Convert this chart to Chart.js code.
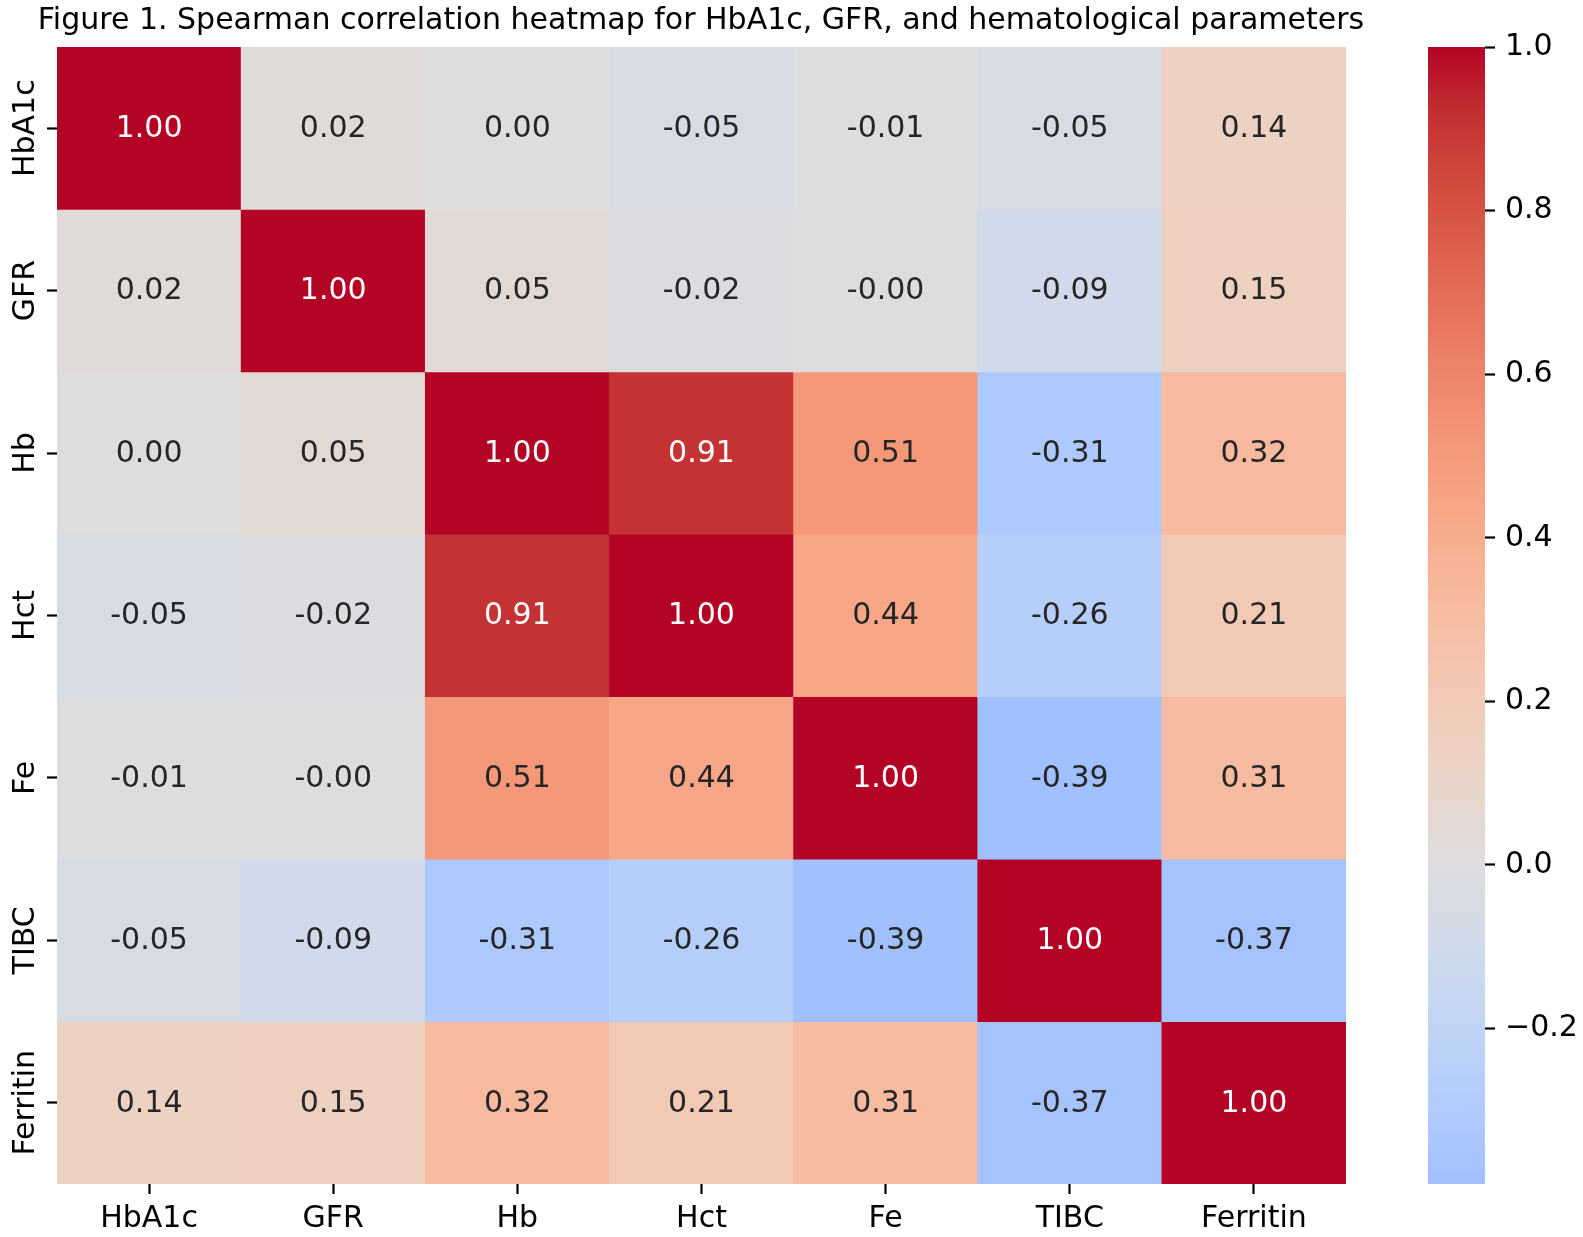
<!DOCTYPE html>
<html>
<head>
<meta charset="utf-8">
<script src="https://cdn.jsdelivr.net/npm/chart.js@4.4.1/dist/chart.umd.min.js"></script>
<style>
  body { margin: 0; background: #fff; }
  #wrap { position: relative; width: 1583px; height: 1237px; }
  #title { position: absolute; left: 0; top: 1px; width: 1402px; text-align: center;
           font: 30px 'DejaVu Sans'; line-height: 36px; color: #000; z-index: 2; white-space: nowrap; }
  #heat { position: absolute; left: 0; top: 0; }
  #cbar { position: absolute; left: 1400px; top: 0; }
</style>
</head>
<body>
<div id="wrap">
  <div id="title">Figure 1. Spearman correlation heatmap for HbA1c, GFR, and hematological parameters</div>
  <canvas id="heat" width="1400" height="1237"></canvas>
  <canvas id="cbar" width="183" height="1237"></canvas>
</div>
<script>
// ---- données ----
const varLabels = ['HbA1c', 'GFR', 'Hb', 'Hct', 'Fe', 'TIBC', 'Ferritin'];

const rowHbA1c    = [1.00, 0.02, 0.00, -0.05, -0.01, -0.05, 0.14];
const rowGFR      = [0.02, 1.00, 0.05, -0.02, -0.001, -0.09, 0.15];
const rowHb       = [0.00, 0.05, 1.00, 0.91, 0.51, -0.31, 0.32];
const rowHct      = [-0.05, -0.02, 0.91, 1.00, 0.44, -0.26, 0.21];
const rowFe       = [-0.01, -0.001, 0.51, 0.44, 1.00, -0.39, 0.31];
const rowTIBC     = [-0.05, -0.09, -0.31, -0.26, -0.39, 1.00, -0.37];
const rowFerritin = [0.14, 0.15, 0.32, 0.21, 0.31, -0.37, 1.00];

const colorbarTicks = [-0.2, 0.0, 0.2, 0.4, 0.6, 0.8, 1.0];

const matrix = [rowHbA1c, rowGFR, rowHb, rowHct, rowFe, rowTIBC, rowFerritin];
const allVals = matrix.flat();
const vmin = Math.min(...allVals);
const vmax = Math.max(...allVals);

// ---- palette coolwarm (table de Moreland) ----
const coolwarm = [
  [59,76,192],[68,90,204],[77,104,215],[87,117,225],[98,130,234],[108,142,241],
  [119,154,247],[130,165,251],[141,176,254],[152,185,255],[163,194,255],[174,201,253],
  [184,208,249],[194,213,244],[204,217,238],[213,219,230],[221,221,221],[229,216,209],
  [236,211,197],[241,204,185],[245,196,173],[247,187,160],[247,177,148],[247,166,135],
  [244,154,123],[241,141,111],[236,127,99],[229,112,88],[222,96,77],[213,80,66],
  [203,62,56],[192,40,47],[180,4,38]
];

function cmap(t) {
  t = Math.max(0, Math.min(1, t));
  const p = t * (coolwarm.length - 1);
  const i = Math.min(Math.floor(p), coolwarm.length - 2);
  const f = p - i;
  return coolwarm[i].map((c, k) => Math.round(c + (coolwarm[i + 1][k] - c) * f));
}

// centre = 0 (comme seaborn)
const vrange = Math.max(vmax, -vmin);
function valueToRgb(v) { return cmap(0.5 + v / (2 * vrange)); }
function rgbStr(c) { return 'rgb(' + c.join(',') + ')'; }

function luminance(c) {
  const lin = c.map(x => { x /= 255; return x <= 0.03928 ? x / 12.92 : Math.pow((x + 0.055) / 1.055, 2.4); });
  return 0.2126 * lin[0] + 0.7152 * lin[1] + 0.0722 * lin[2];
}

Chart.defaults.font.family = "'DejaVu Sans'";
Chart.defaults.font.size = 30;
Chart.defaults.color = '#000';

// ---- annotations dans les cellules + labels Y verticaux ----
const cellText = {
  id: 'cellText',
  afterDatasetsDraw(chart) {
    const ctx = chart.ctx;
    ctx.save();
    ctx.font = "30px 'DejaVu Sans'";
    ctx.textAlign = 'center';
    ctx.textBaseline = 'middle';
    chart.data.datasets.forEach((ds, r) => {
      chart.getDatasetMeta(r).data.forEach((el, c) => {
        const v = matrix[r][c];
        ctx.fillStyle = luminance(valueToRgb(v)) > 0.408 ? '#262626' : '#ffffff';
        ctx.fillText(v.toFixed(2), el.x, (el.y + el.base) / 2 + 1);
      });
    });
    ctx.restore();
  }
};

const yRotLabels = {
  id: 'yRotLabels',
  afterDraw(chart) {
    const ctx = chart.ctx;
    const ys = chart.scales.y;
    ctx.save();
    ctx.font = "30px 'DejaVu Sans'";
    ctx.fillStyle = '#000';
    ctx.textAlign = 'center';
    ctx.textBaseline = 'alphabetic';
    varLabels.forEach((lab, i) => {
      ctx.save();
      ctx.translate(34, ys.getPixelForValue(i + 0.5));
      ctx.rotate(-Math.PI / 2);
      ctx.fillText(lab, 0, 0);
      ctx.restore();
    });
    ctx.restore();
  }
};

// ---- heatmap ----
new Chart(document.getElementById('heat').getContext('2d'), {
  type: 'bar',
  data: {
    labels: varLabels,
    datasets: matrix.map((row, r) => ({
      label: varLabels[r],
      data: row.map(() => [r, r + 1]),
      backgroundColor: row.map(v => rgbStr(valueToRgb(v))),
      borderWidth: 0,
      barPercentage: 1,
      categoryPercentage: 1,
      grouped: false
    }))
  },
  options: {
    responsive: false,
    animation: false,
    layout: { padding: { top: 47, right: 54, left: 0, bottom: 0 } },
    plugins: { legend: { display: false }, tooltip: { enabled: false } },
    scales: {
      x: {
        type: 'category',
        grid: { drawOnChartArea: false, offset: false, tickLength: 10, tickWidth: 2.2, tickColor: '#000' },
        border: { display: false },
        ticks: { padding: 7, maxRotation: 0, minRotation: 0 },
        afterFit(scale) { scale.height = 53; }
      },
      y: {
        type: 'linear',
        min: 0, max: 7,
        reverse: true,
        grid: { drawOnChartArea: false, tickLength: 10, tickWidth: 2.2, tickColor: '#000' },
        border: { display: false },
        ticks: { display: false },
        afterBuildTicks(scale) { scale.ticks = varLabels.map((l, i) => ({ value: i + 0.5 })); },
        afterFit(scale) { scale.width = 57; }
      }
    }
  },
  plugins: [cellText, yRotLabels]
});

// ---- barre de couleur ----
new Chart(document.getElementById('cbar').getContext('2d'), {
  type: 'bar',
  data: {
    labels: [''],
    datasets: [{
      data: [[vmin, vmax]],
      borderWidth: 0,
      barPercentage: 1,
      categoryPercentage: 1,
      backgroundColor(context) {
        const chart = context.chart;
        if (!chart.chartArea) return '#ddd';
        const ys = chart.scales.y;
        const g = chart.ctx.createLinearGradient(0, ys.getPixelForValue(vmin), 0, ys.getPixelForValue(vmax));
        const n = 64;
        for (let k = 0; k <= n; k++) {
          const v = vmin + (vmax - vmin) * k / n;
          g.addColorStop(k / n, rgbStr(valueToRgb(v)));
        }
        return g;
      }
    }]
  },
  options: {
    responsive: false,
    animation: false,
    layout: { padding: { top: 47, bottom: 53, left: 28, right: 0 } },
    plugins: { legend: { display: false }, tooltip: { enabled: false } },
    scales: {
      x: { display: false },
      y: {
        type: 'linear',
        position: 'right',
        min: vmin, max: vmax,
        grid: { drawOnChartArea: false, tickLength: 10, tickWidth: 2.2, tickColor: '#000' },
        border: { display: false },
        ticks: {
          padding: 10,
          callback: v => v.toFixed(1).replace('-', '\u2212')
        },
        afterBuildTicks(scale) { scale.ticks = colorbarTicks.map(v => ({ value: v })); },
        afterFit(scale) { scale.width = 98; }
      }
    }
  }
});
</script>
</body>
</html>
